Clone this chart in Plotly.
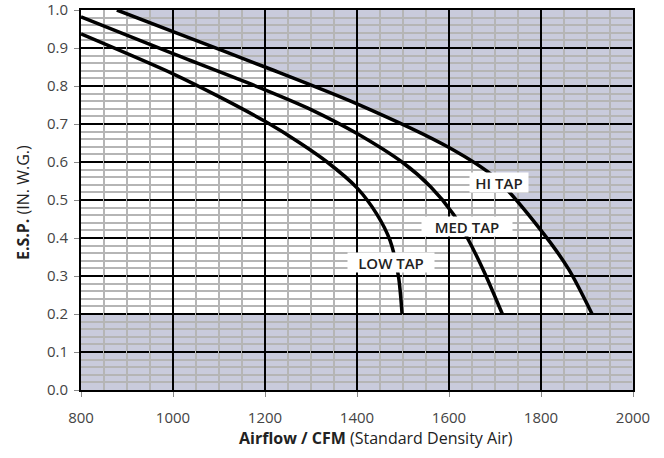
import plotly.graph_objects as go

# ---- data ----
X_RANGE = [800, 2000]
Y_RANGE = [0.0, 1.0]
X_TICKS = [800, 1000, 1200, 1400, 1600, 1800, 2000]
Y_TICKS = [0.0, 0.1, 0.2, 0.3, 0.4, 0.5, 0.6, 0.7, 0.8, 0.9, 1.0]

HI_X = [878, 1000, 1200, 1400, 1600, 1700, 1800, 1860, 1911]
HI_Y = [1.0, 0.943, 0.850, 0.753, 0.638, 0.559, 0.420, 0.318, 0.2]

MED_X = [800, 1000, 1200, 1300, 1400, 1500, 1560, 1610, 1640, 1676, 1716]
MED_Y = [0.982, 0.885, 0.790, 0.738, 0.675, 0.598, 0.535, 0.462, 0.400, 0.312, 0.2]

LOW_X = [800, 1000, 1100, 1200, 1276, 1335, 1400, 1443, 1472, 1490, 1498]
LOW_Y = [0.937, 0.832, 0.772, 0.707, 0.650, 0.600, 0.532, 0.463, 0.393, 0.300, 0.2]

LABELS = ["HI TAP", "MED TAP", "LOW TAP"]
LABEL_X = [1709, 1639, 1474]
LABEL_Y = [0.547, 0.429, 0.335]
LABEL_W = [58, 90, 86]

FONT = "Open Sans"

fig = go.Figure()

for xs, ys, name in [(HI_X, HI_Y, LABELS[0]), (MED_X, MED_Y, LABELS[1]), (LOW_X, LOW_Y, LABELS[2])]:
    fig.add_trace(go.Scatter(
        x=xs, y=ys, mode="lines", name=name,
        line=dict(color="black", width=3.5, shape="spline", smoothing=0.8),
        hoverinfo="skip", showlegend=False,
    ))

# white operating region: left of the HI TAP curve, above its end pressure
pts = [(X_RANGE[0], HI_Y[-1]), (X_RANGE[0], Y_RANGE[1])] + list(zip(HI_X, HI_Y))
path = "M " + " L ".join(f"{x},{y}" for x, y in pts) + " Z"
fig.add_shape(type="path", path=path, xref="x", yref="y",
              fillcolor="white", line_width=0, layer="below")

for txt, lx, ly, w in zip(LABELS, LABEL_X, LABEL_Y, LABEL_W):
    fig.add_annotation(
        x=lx, y=ly, xref="x", yref="y", text=txt, showarrow=False,
        bgcolor="white", borderpad=0, width=w, height=19,
        font=dict(family=FONT, size=15, color="#222222", weight=600),
    )

fig.add_annotation(
    x=0.534, y=-0.125, xref="paper", yref="paper", xanchor="center", yanchor="middle",
    text="<b>Airflow / CFM</b> (Standard Density Air)", showarrow=False,
    font=dict(family=FONT, size=16, color="#222222"),
)
fig.add_annotation(
    x=-0.105, y=0.492, xref="paper", yref="paper", xanchor="center", yanchor="middle",
    text="<b>E.S.P.</b> (IN. W.G.)", textangle=-90, showarrow=False,
    font=dict(family=FONT, size=16, color="#222222"),
)

fig.update_xaxes(
    range=X_RANGE, tickvals=X_TICKS, ticktext=[str(v) for v in X_TICKS],
    showgrid=True, gridcolor="black", gridwidth=2,
    minor=dict(dtick=50, tick0=800, showgrid=True, gridcolor="#b5b5b5", gridwidth=2, ticks=""),
    ticks="outside", ticklen=5, tickcolor="#888888", tickwidth=1,
    showline=True, linecolor="black", linewidth=2, mirror=True,
    zeroline=False, ticklabelstandoff=8, ticklabeloverflow="allow", automargin=False,
    tickfont=dict(family=FONT, size=15, color="#444444"),
)
fig.update_yaxes(
    range=Y_RANGE, tickvals=Y_TICKS, ticktext=[f"{v:.1f}" for v in Y_TICKS],
    showgrid=True, gridcolor="black", gridwidth=2, griddash="22px,1px",
    minor=dict(dtick=0.02, tick0=0, showgrid=True, gridcolor="#b5b5b5", gridwidth=2, ticks=""),
    ticks="outside", ticklen=5, tickcolor="#888888", tickwidth=1,
    showline=True, linecolor="black", linewidth=2, mirror=True,
    zeroline=False, ticklabelstandoff=3, ticklabeloverflow="allow", automargin=False,
    tickfont=dict(family=FONT, size=15, color="#444444"),
)

fig.update_layout(
    width=664, height=458,
    margin=dict(l=81, r=31, t=10, b=68),
    plot_bgcolor="#c9cbdc", paper_bgcolor="white",
    font=dict(family=FONT),
)

fig.write_html("out.html")
